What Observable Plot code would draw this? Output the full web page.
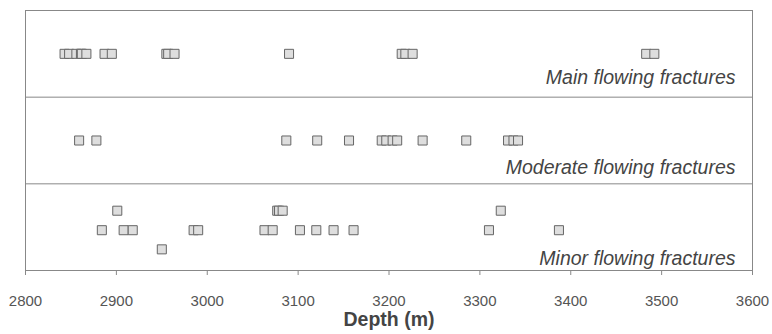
<!DOCTYPE html>
<html>
<head>
<meta charset="utf-8">
<script src="https://cdn.jsdelivr.net/npm/d3@7"></script>
<script src="https://cdn.jsdelivr.net/npm/@observablehq/plot@0.6"></script>
<style>
  html, body { margin: 0; padding: 0; background: #fff; }
  #chart svg { display: block; }
</style>
</head>
<body>
<div id="chart"></div>
<script>
// Panels (top to bottom)
const panelLabels = ["Main flowing fractures", "Moderate flowing fractures", "Minor flowing fractures"];

// Fracture depths (m)
const mainDepths = [2843, 2848, 2856, 2861, 2862, 2867, 2887, 2895, 2955, 2957, 2964, 3090, 3214, 3218, 3226, 3483, 3492];
const moderateDepths = [2859, 2878, 3087, 3121, 3156, 3192, 3197, 3204, 3209, 3237, 3285, 3331, 3337, 3342];
const minorUpper = [2901, 3077, 3079, 3083, 3323];
const minorMiddle = [2884, 2908, 2918, 2985, 2990, 3063, 3072, 3102, 3120, 3139, 3161, 3310, 3387];
const minorLower = [2950];

// Axis ticks
const xTicks = [2800, 2900, 3000, 3100, 3200, 3300, 3400, 3500, 3600];
const xTitle = "Depth (m)";

// Build rows: panel index (0 = top) and row-within-panel
const rows = [];
mainDepths.forEach(d => rows.push({depth: d, panel: 0, row: "single"}));
moderateDepths.forEach(d => rows.push({depth: d, panel: 1, row: "single"}));
minorUpper.forEach(d => rows.push({depth: d, panel: 2, row: "upper"}));
minorMiddle.forEach(d => rows.push({depth: d, panel: 2, row: "middle"}));
minorLower.forEach(d => rows.push({depth: d, panel: 2, row: "lower"}));

const rowFrac = {single: 0.5, upper: 0.69, middle: 0.465, lower: 0.244};
const labelFrac = [0.22, 0.18, 0.14];

const font = "'Liberation Sans', Arial, Helvetica, sans-serif";

const chart = Plot.plot({
  width: 772,
  height: 334,
  marginTop: 10,
  marginBottom: 64,
  marginLeft: 25,
  marginRight: 20,
  style: {fontFamily: font, color: "#555", background: "#fff"},
  x: {domain: [2800, 3600]},
  y: {domain: [0, 3], axis: null},
  marks: [
    Plot.ruleY([0, 1, 2, 3], {stroke: "#888", strokeWidth: 1}),
    Plot.ruleX([2800, 3600], {stroke: "#888", strokeWidth: 1}),
    Plot.axisX({ticks: xTicks, tickSize: 5, tickPadding: 20, fontSize: 15, tickFormat: d => String(d), label: null, stroke: "#888"}),
    Plot.dot(rows, {
      x: "depth",
      y: d => (2 - d.panel) + rowFrac[d.row],
      symbol: "square",
      r: 5.1,
      fill: "#dedede",
      stroke: "#666",
      strokeWidth: 1
    }),
    Plot.text(panelLabels, {
      x: () => 3600,
      y: (d, i) => (2 - i) + labelFrac[i],
      dx: -17,
      text: d => d,
      textAnchor: "end",
      fontSize: 19.5,
      fontStyle: "italic",
      fill: "#444"
    }),
    Plot.text([xTitle], {
      frameAnchor: "bottom",
      dy: 55,
      text: d => d,
      fontSize: 19.5,
      fontWeight: "bold",
      fill: "#444"
    })
  ]
});
document.getElementById("chart").appendChild(chart);
</script>
</body>
</html>
